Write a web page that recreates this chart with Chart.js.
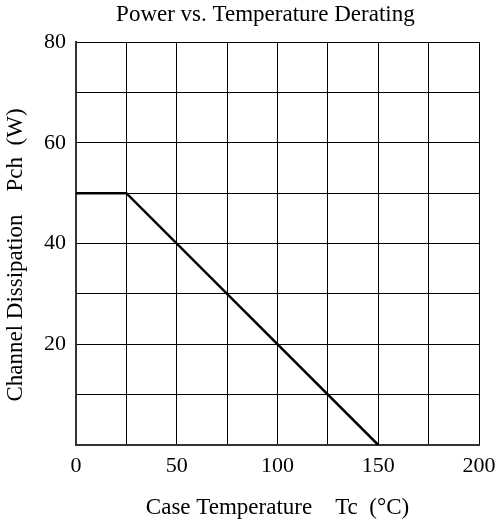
<!DOCTYPE html>
<html>
<head>
<meta charset="utf-8">
<script src="https://cdn.jsdelivr.net/npm/chart.js@4/dist/chart.umd.min.js"></script>
<style>
  html, body { margin: 0; padding: 0; background: #fff; }
  #wrap { width: 499px; height: 524px; }
</style>
</head>
<body>
<div id="wrap"><canvas id="derating"></canvas></div>
<script>
// case temperature (deg C) and channel dissipation (W)
const tempPoints = [0, 25, 150];
const powerPoints = [50, 50, 0];
const xTickLabels = [0, 50, 100, 150, 200];
const yTickLabels = [20, 40, 60, 80];

const serif = 'Liberation Serif';

const ctx = document.getElementById('derating').getContext('2d');
const chart = new Chart(ctx, {
    type: 'scatter',
    data: {
        datasets: [{
            label: 'Pch',
            data: tempPoints.map((t, i) => ({ x: t, y: powerPoints[i] })),
            showLine: true,
            borderColor: '#000',
            borderWidth: 2.5,
            pointRadius: 0,
            tension: 0
        }]
    },
    options: {
        responsive: true,
        maintainAspectRatio: false,
        animation: false,
        layout: { padding: { left: 0, right: 20, top: 0, bottom: 0 } },
        plugins: {
            legend: { display: false },
            tooltip: { enabled: false },
            title: {
                display: true,
                // leading spaces push the title over the plot area like the original
                text: '         Power vs. Temperature Derating',
                color: '#000',
                font: { family: serif, size: 23, weight: 'normal' },
                padding: { top: 1.2, bottom: 13.2 }
            }
        },
        scales: {
            x: {
                type: 'linear',
                min: 0,
                max: 200,
                afterFit: s => {
                    s.height = 79;
                    s.paddingLeft = 0;
                    s.paddingRight = 0;
                },
                ticks: {
                    stepSize: 25,
                    color: '#000',
                    padding: 8,
                    maxRotation: 0,
                    autoSkip: false,
                    font: { family: serif, size: 22 },
                    callback: v => xTickLabels.includes(v) ? String(v) : ''
                },
                grid: { color: '#000', lineWidth: 1, drawTicks: false },
                border: { color: '#333', width: 2 },
                title: {
                    display: true,
                    text: 'Case Temperature    Tc  (\u00B0C)',
                    color: '#000',
                    font: { family: serif, size: 23 },
                    padding: { top: 0, bottom: 2.2 }
                }
            },
            y: {
                type: 'linear',
                min: 0,
                max: 80,
                afterFit: s => { s.width = 76; },
                ticks: {
                    stepSize: 10,
                    color: '#000',
                    padding: 10,
                    autoSkip: false,
                    font: { family: serif, size: 22 },
                    callback: v => yTickLabels.includes(v) ? String(v) : ''
                },
                grid: { color: '#000', lineWidth: 1, drawTicks: false },
                border: { color: '#333', width: 2 },
                title: {
                    display: true,
                    text: 'Channel Dissipation    Pch  (W)    ',
                    color: '#000',
                    font: { family: serif, size: 23 },
                    padding: { top: 2, bottom: 0 }
                }
            }
        }
    }
});
</script>
</body>
</html>
